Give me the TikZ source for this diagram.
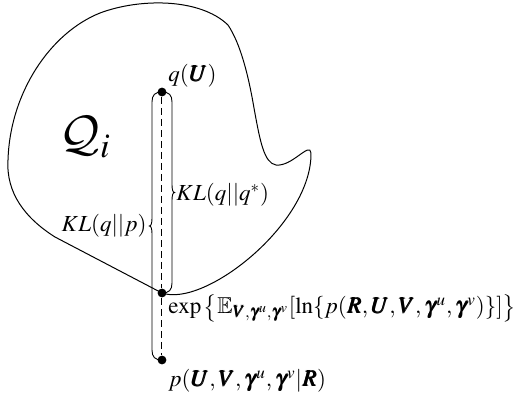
\documentclass[tikz,border=0pt]{standalone}
\usepackage{amsmath,amssymb}
\usepackage{mathptmx}
\usepackage{bm}
\DeclareMathAlphabet{\mathcal}{OMS}{cmsy}{m}{n}
\usetikzlibrary{positioning, calc}

\tikzset{
  dot/.style={circle, fill, inner sep=0pt, minimum size=4.4pt},
  lbl/.style={inner sep=1pt, font=\fontsize{11.5}{14}\selectfont},
  kbrace/.style={line width=0.45pt},
}

% brace between two dots, #3 = 1 (right) or -1 (left)
\newcommand{\klbrace}[3]{%
  \draw[kbrace] let \p1=(#1.center), \p2=(#2.center), \n1={0.5*(\y1+\y2)},
      \n2={#3*5pt}, \n3={#3*6.3pt}, \n4={#3*3.5pt}, \n5={#3*5.4pt} in
    (\p1) .. controls (\x1+\n4,\y1) and (\x1+\n2,\y1-1.5pt) .. (\x1+\n2,\y1-5pt)
    -- (\x1+\n2,\n1+4pt) .. controls (\x1+\n2,\n1+1.5pt) and (\x1+\n5,\n1) .. (\x1+\n3,\n1)
    .. controls (\x1+\n5,\n1) and (\x1+\n2,\n1-1.5pt) .. (\x1+\n2,\n1-4pt)
    -- (\x1+\n2,\y2+5pt) .. controls (\x1+\n2,\y2+1.5pt) and (\x1+\n4,\y2) .. (\p2);
}

\begin{document}
\begin{tikzpicture}[x=0.5pt,y=0.5pt,line width=0.5pt]
  \useasboundingbox (0,0) rectangle (527,393);
  % set Q_i
  \draw (162,100) .. controls (205,85) and (312,170) .. (311,240)
        .. controls (310,252) and (292,226) .. (276,228)
        .. controls (264,230) and (260,252) .. (254,285)
        .. controls (248,320) and (240,350) .. (228,368)
        .. controls (200,395) and (140,395) .. (100,380)
        .. controls (50,360) and (10,300) .. (8,233)
        .. controls (6,200) and (25,175) .. (55,156) -- cycle;
  \node (Qi) at (85,256) {\Huge$\mathcal{Q}_i$};

  \node[dot] (qU) at (162,301) {};
  \node[dot] (qstar) at (162,100) {};
  \node[dot] (post) at (162,33) {};
  \draw[dashed, dash pattern=on 3.5pt off 2pt] (qU) -- (qstar) -- (post);

  \klbrace{qU}{qstar}{1}
  \klbrace{qU}{post}{-1}

  \node[lbl, anchor=south west] (qUlbl) at (166,303) {$q(\bm{U})$};
  \node[lbl, anchor=west] (klstar) at (174,198) {$KL(q||q^*)$};
  \node[lbl, anchor=east] (klp) at (149,167) {$KL(q||p)$};
  \node[lbl, anchor=west] (qstarlbl) at (166,85)
    {$\exp\big\{\mathbb{E}_{\bm{V},\bm{\gamma}^u,\bm{\gamma}^v}[\ln\{p(\bm{R},\bm{U},\bm{V},\bm{\gamma}^u,\bm{\gamma}^v)\}]\big\}$};
  \node[lbl, anchor=north west] (postlbl) at (166,26) {$p(\bm{U},\bm{V},\bm{\gamma}^u,\bm{\gamma}^v|\bm{R})$};
\end{tikzpicture}
\end{document}
